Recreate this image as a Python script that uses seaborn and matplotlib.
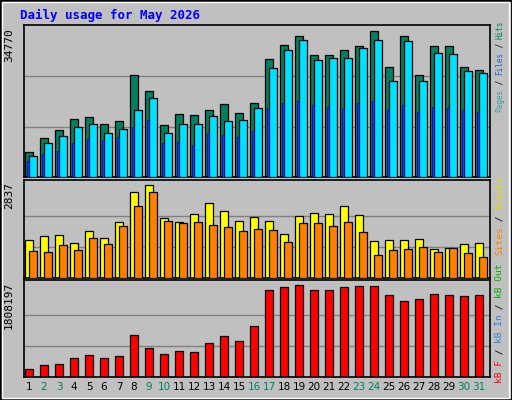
import numpy as np
import matplotlib
matplotlib.use("Agg")
import matplotlib.pyplot as plt
import seaborn as sns

days = list(range(1, 32))
hits = [5800, 9000, 10900, 13400, 13800, 12200, 12900, 23400, 19900, 12000, 14500, 14300, 15400, 16800, 14700, 17100,
        27100, 30400, 32500, 28100, 28100, 29200, 30100, 33600, 25400, 32500, 23600, 30100, 30100, 25400, 24700]
files = [4900, 7800, 9500, 11600, 12100, 10200, 11100, 15400, 18100, 10200, 12300, 12300, 14000, 13000, 13200, 15800,
         25000, 29200, 31500, 26900, 27300, 27300, 29700, 31500, 22200, 31300, 22200, 28600, 28400, 24500, 23900]
pages = [3700, 5300, 6000, 7900, 8800, 8600, 9300, 11400, 13200, 7900, 8100, 7400, 10200, 9700, 9300, 10700,
         16000, 17000, 17500, 16500, 16200, 16000, 17000, 17500, 15500, 16500, 15000, 16200, 16000, 15500, 15000]
visits = [1160, 1290, 1320, 1060, 1440, 1210, 1700, 2610, 2840, 1830, 1700, 1960, 2280, 2030, 1740, 1870,
          1740, 1340, 1890, 1990, 1960, 2180, 1920, 1120, 1160, 1160, 1190, 880, 910, 1030, 1060]
sites = [810, 780, 990, 840, 1220, 1030, 1590, 2180, 2610, 1730, 1670, 1700, 1610, 1550, 1430, 1490,
         1460, 1090, 1670, 1670, 1580, 1700, 1400, 690, 840, 870, 930, 780, 910, 750, 650]
kbytes = [165000, 244000, 264000, 363000, 422000, 363000, 403000, 818000, 561000, 442000, 502000, 482000, 660000,
          798000, 700000, 996000, 1709000, 1769000, 1808197, 1709000, 1709000, 1769000, 1788000, 1788000,
          1610000, 1491000, 1531000, 1630000, 1610000, 1590000, 1610000]
weekend = {2, 3, 9, 10, 16, 17, 23, 24, 30, 31}

sns.set_theme(style="white")
plt.rcParams['font.family'] = ['DejaVu Sans Mono', 'DejaVu Sans']
BG = "#C0C0C0"
fig = plt.figure(figsize=(5.12, 4.0), dpi=100, facecolor=BG)
W, H = 512, 400

def axes_px(x0, y0, x1, y1):
    return fig.add_axes([x0 / W, 1 - y1 / H, (x1 - x0) / W, (y1 - y0) / H])

ax1 = axes_px(24, 25, 490, 177)
ax2 = axes_px(24, 180, 490, 278)
ax3 = axes_px(24, 280, 490, 377)
x = np.array(days, dtype=float)
ek = dict(edgecolor="black", linewidth=0.9)

def style(ax, maxv, top, label):
    ax.set_facecolor(BG)
    ax.set_xlim(0.533, 31.6)
    ax.set_ylim(0, top)
    for f in (1 / 3, 2 / 3):
        ax.axhline(maxv * f, color="#808080", lw=1, zorder=0)
    ax.set_xticks([]); ax.set_yticks([])
    for s in ax.spines.values():
        s.set_color("black"); s.set_linewidth(1.2)
    ax.text(-0.022, 0.98, label, transform=ax.transAxes, rotation=90, rotation_mode="anchor",
            ha="right", va="bottom", fontsize=8, color="black")

ax1.bar(x - 0.13, hits, width=0.53, color="#008060", zorder=2, **ek)
ax1.bar(x + 0.13, files, width=0.5, color="#00E0FF", zorder=3, **ek)
ax1.bar(x - 0.19, pages, width=0.12, color="#0040FF", edgecolor="#000080", linewidth=0.5, zorder=4)
style(ax1, 34770, 34770 * 151 / 150, "34770")

ax2.bar(x - 0.13, visits, width=0.53, color="#FFFF00", zorder=2, **ek)
ax2.bar(x + 0.13, sites, width=0.5, color="#FF8000", zorder=3, **ek)
style(ax2, 2837, 2837 * 97 / 92.3, "2837")

ax3.bar(x - 0.13, kbytes, width=0.5, color="#FF0000", zorder=2, **ek)
style(ax3, 1808197, 1808197 * 96 / 91.4, "1808197")

for d in days:
    ax3.text(d - 0.13, -0.05, str(d), transform=ax3.get_xaxis_transform(), ha="center", va="top",
             fontsize=7.5, color="#008060" if d in weekend else "black", family="DejaVu Sans")

fig.text(20 / W, 1 - 15 / H, "Daily usage for May 2026", color="#0000FF", fontsize=9,
         fontweight="bold", va="center", ha="left")

def vlabel(y_start, segs, size):
    step = 0.6 * size / 72 * 100
    y = y_start
    for txt, col in segs:
        fig.text(500 / W, 1 - y / H, txt, rotation=90, rotation_mode="anchor", ha="left", va="center",
                 fontsize=size, color=col)
        y -= len(txt) * step

vlabel(112, [("Pages", "#40A0A0"), (" / ", "black"), ("Files", "#2060C0"), (" / ", "black"), ("Hits", "#008060")], 5.5)
vlabel(255, [("Sites", "#FF8000"), (" / ", "black"), ("Visits", "#E0E000")], 6.8)
vlabel(383, [("kB F", "#FF0000"), (" / ", "black"), ("kB In", "#3080E0"), (" / ", "black"), ("kB Out", "#00B000")], 6.8)

fig.add_artist(plt.Rectangle((0, 0), 1, 1, transform=fig.transFigure, fill=False, edgecolor="black", lw=2))
fig.add_artist(plt.Rectangle((0.004, 0.005), 0.99, 0.99, transform=fig.transFigure, fill=False, edgecolor="white", lw=1))
fig.savefig("out.png", dpi=100, facecolor=BG)
